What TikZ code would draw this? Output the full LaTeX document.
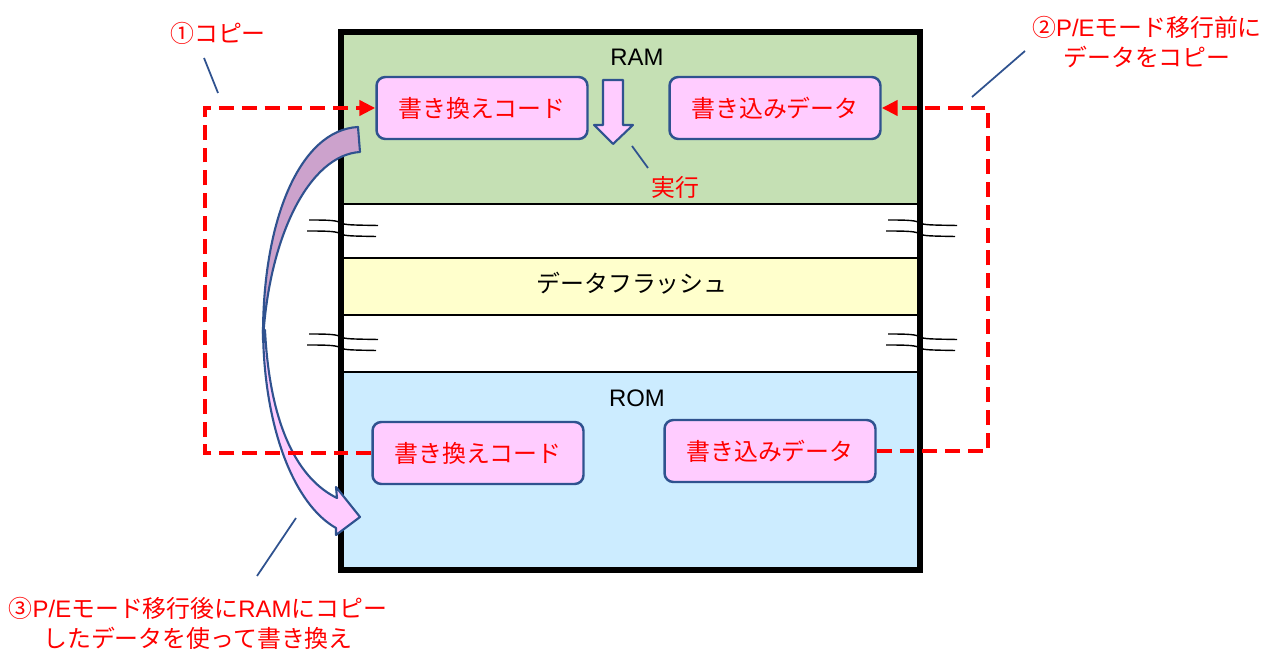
\documentclass[tikz,border=0pt]{standalone}
\usepackage{fontspec}
\setmainfont{Liberation Sans}
\newfontfamily\jp{Noto Sans CJK JP}
\usetikzlibrary{arrows.meta}

\definecolor{ramgreen}{HTML}{C5E0B4}
\definecolor{flashyellow}{HTML}{FFFFCC}
\definecolor{romblue}{HTML}{CCECFF}
\definecolor{boxpink}{HTML}{FFCCFF}
\definecolor{backpurple}{HTML}{CCA2CC}
\definecolor{edgeblue}{HTML}{2F528F}

\begin{document}
\begin{tikzpicture}[x=0.02cm,y=-0.02cm,
  every node/.style={font=\fontsize{13.6}{17}\selectfont},
  codebox/.style={draw=edgeblue,line width=1.4pt,fill=boxpink,rounded corners=5pt,
    minimum width=4.22cm,minimum height=1.24cm,text=red,font=\jp\fontsize{13.6}{17}\selectfont},
  note/.style={text=red,align=center},
  copyline/.style={red,line width=2.2pt,dash pattern=on 8.5pt off 4.5pt},
  leader/.style={edgeblue,line width=1pt},
  blockarrow/.style={draw=edgeblue,line width=1.2pt,line join=round},
  brk/.style={line width=0.8pt}]
  \useasboundingbox (0,0) rectangle (1265,651);
  % memory map
  \fill[ramgreen] (341,32) rectangle (920,204);
  \fill[flashyellow] (341,258) rectangle (920,315);
  \fill[romblue] (341,372) rectangle (920,570);
  \foreach \yy in {204,258,315,372}
    \draw[line width=0.8pt] (341,\yy) -- (920,\yy);
  \draw[line width=3.4pt] (341,32) rectangle (920,570);
  % omitted areas
  \foreach \bx/\by in {341/220,341/334,920/220,920/334}{
    \draw[brk,shift={(\bx,\by)}] (-32,0) .. controls (-10,0) and (-4,0.5) .. (0,3) .. controls (4,5) and (10,5) .. (37,5.5);
    \draw[brk,shift={(\bx,\by)}] (-34,11) .. controls (-10,11) and (-4,11.5) .. (0,14) .. controls (4,16) and (10,16) .. (35,16.5);
  }
  \node (ramlbl) at (637,57) {RAM};
  \node (flashlbl) at (632,283) {\jp データフラッシュ};
  \node (romlbl) at (637,398) {ROM};
  \node[codebox] (ramcode) at (482,108) {書き換えコード};
  \node[codebox] (ramdata) at (775,108) {書き込みデータ};
  \node[codebox] (romcode) at (478,453) {書き換えコード};
  \node[codebox] (romdata) at (770,451) {書き込みデータ};
  % run from RAM
  \draw[blockarrow,fill=boxpink] (603,80) -- (623,80) -- (623,125) -- (633,125) -- (613,144) -- (594,125) -- (603,125) -- cycle;
  \node[note] (jikko) at (675,187) {\jp 実行};
  % rewrite arrow, front then back
  \draw[blockarrow,fill=boxpink] (263,330) .. controls (264,430) and (295,505) .. (336,528) -- (336,535) -- (360,517) -- (336,487) -- (337,498) .. controls (300,480) and (270,430) .. (265,330) -- cycle;
  \draw[blockarrow,fill=backpurple] (358,127) .. controls (300,130) and (262,220) .. (263,340) .. controls (269,235) and (310,155) .. (360,152) -- cycle;
  % copies
  \draw[copyline,-{Triangle[length=9pt,width=8.5pt]}] (romcode.west) -- (205,453) |- (ramcode.west);
  \draw[copyline,-{Triangle[length=9pt,width=8.5pt]}] (romdata.east) -- (988,451) |- (ramdata.east);
  % notes
  \node[note] (step1) at (218,33) {\jp ①コピー};
  \node[note] (step2) at (1147,42) {{\jp ②}P/E{\jp モード移行前に}\\{\jp データをコピー}};
  \node[note] (step3) at (198,623) {{\jp ③}P/E{\jp モード移行後に}RAM{\jp にコピー}\\{\jp したデータを使って書き換え}};
  \draw[leader] (204,58) -- (218,93);
  \draw[leader] (1025,51) -- (972,97);
  \draw[leader] (632,146) -- (648,168);
  \draw[leader] (296,518) -- (257,576);
\end{tikzpicture}
\end{document}
